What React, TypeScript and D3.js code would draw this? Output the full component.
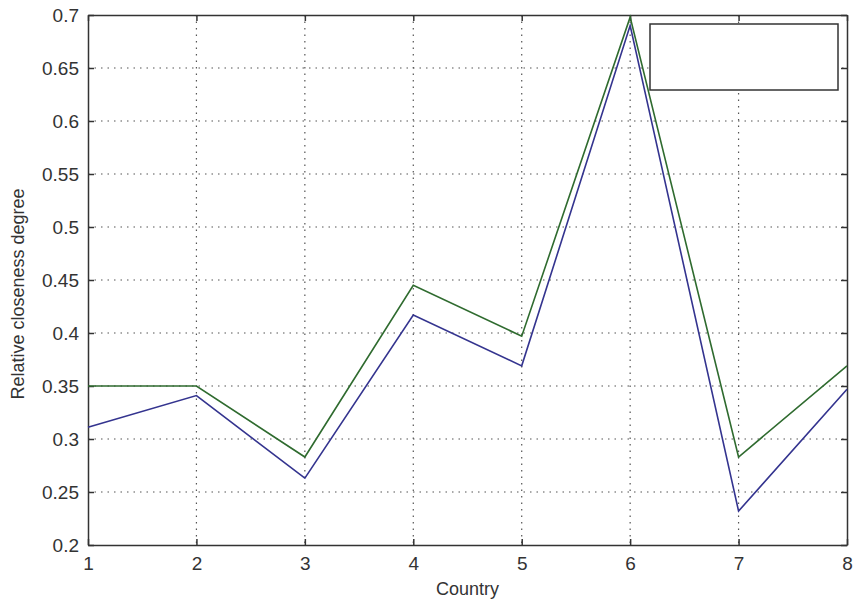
import React, { useEffect, useRef } from 'react';
import * as d3 from 'd3';

const countries = [1, 2, 3, 4, 5, 6, 7, 8];
const upperSeries = [0.35, 0.35, 0.283, 0.445, 0.397, 0.698, 0.283, 0.369];
const lowerSeries = [0.311, 0.341, 0.263, 0.417, 0.369, 0.69, 0.232, 0.347];
const yTicks = [0.2, 0.25, 0.3, 0.35, 0.4, 0.45, 0.5, 0.55, 0.6, 0.65, 0.7];

const App = () => {
  const ref = useRef<SVGSVGElement | null>(null);

  useEffect(() => {
    if (!ref.current) return;
    const svg = d3.select(ref.current);
    svg.selectAll('*').remove();

    const margin = { top: 15, right: 6, bottom: 59, left: 88 };
    const width = 853 - margin.left - margin.right;
    const height = 604 - margin.top - margin.bottom;
    const font = '"Liberation Sans", Arial, sans-serif';

    const g = svg.append('g').attr('transform', `translate(${margin.left},${margin.top})`);

    const x = d3.scaleLinear().domain([1, 8]).range([0, width]);
    const y = d3.scaleLinear().domain([0.2, 0.7]).range([height, 0]);

    g.append('rect').attr('width', width).attr('height', height).attr('fill', '#fff');

    // dotted grid
    g.selectAll('.vgrid')
      .data(countries.slice(1, -1))
      .enter()
      .append('line')
      .attr('x1', d => x(d)).attr('x2', d => x(d))
      .attr('y1', 0).attr('y2', height)
      .attr('stroke', '#555')
      .attr('stroke-width', 1.2)
      .attr('stroke-dasharray', '1.5,5');

    g.selectAll('.hgrid')
      .data(yTicks.slice(1, -1))
      .enter()
      .append('line')
      .attr('x1', 0).attr('x2', width)
      .attr('y1', d => y(d)).attr('y2', d => y(d))
      .attr('stroke', '#555')
      .attr('stroke-width', 1.2)
      .attr('stroke-dasharray', '1.5,5');

    // axes, ticks pointing inwards on all four sides
    const xAxis = g.append('g')
      .attr('transform', `translate(0,${height})`)
      .call(d3.axisBottom(x).tickValues(countries).tickFormat(d3.format('d')).tickSizeInner(-6).tickSizeOuter(0).tickPadding(12));
    const yAxis = g.append('g')
      .call(d3.axisLeft(y).tickValues(yTicks).tickFormat(d => String(+d)).tickSizeInner(-6).tickSizeOuter(0).tickPadding(9));
    g.append('g')
      .call(d3.axisTop(x).tickValues(countries).tickFormat(() => '').tickSizeInner(-6).tickSizeOuter(0));
    g.append('g')
      .attr('transform', `translate(${width},0)`)
      .call(d3.axisRight(y).tickValues(yTicks).tickFormat(() => '').tickSizeInner(-6).tickSizeOuter(0));

    g.selectAll('.domain').attr('stroke', '#333').attr('stroke-width', 1.5);
    g.selectAll('.tick line').attr('stroke', '#333').attr('stroke-width', 1.5);
    [xAxis, yAxis].forEach(a => a.selectAll('text')
      .style('font-family', font)
      .style('font-size', '19px')
      .attr('fill', '#333'));

    // lines
    const line = d3.line<number>()
      .x((d, i) => x(countries[i]))
      .y(d => y(d));

    g.append('path')
      .datum(upperSeries)
      .attr('d', line)
      .attr('fill', 'none')
      .attr('stroke', '#2f6b2f')
      .attr('stroke-width', 1.6);

    g.append('path')
      .datum(lowerSeries)
      .attr('d', line)
      .attr('fill', 'none')
      .attr('stroke', '#34348f')
      .attr('stroke-width', 1.6);

    // empty legend box
    g.append('rect')
      .attr('x', 562).attr('y', 9)
      .attr('width', 188).attr('height', 66)
      .attr('fill', '#fff')
      .attr('stroke', '#333')
      .attr('stroke-width', 1.5);

    // axis labels
    svg.append('text')
      .attr('x', margin.left + width / 2)
      .attr('y', 595)
      .attr('text-anchor', 'middle')
      .style('font-family', font)
      .style('font-size', '18px')
      .attr('fill', '#333')
      .text('Country');

    svg.append('text')
      .attr('transform', `translate(24,${margin.top + height / 2 + 14}) rotate(-90)`)
      .attr('text-anchor', 'middle')
      .style('font-family', font)
      .style('font-size', '18px')
      .attr('fill', '#333')
      .text('Relative closeness degree');
  }, []);

  return (
    <svg ref={ref} width={853} height={604}
      style={{ position: 'absolute', left: 0, top: 0, background: '#fff' }} />
  );
};

export default App;
